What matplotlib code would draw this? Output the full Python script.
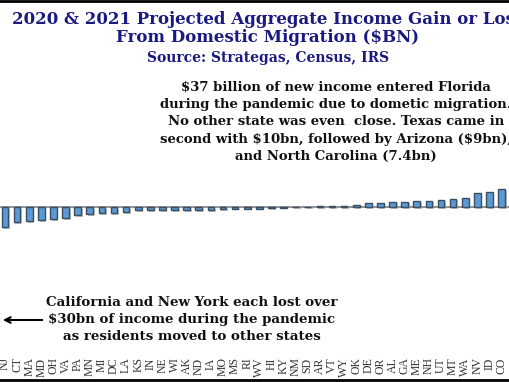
import matplotlib
matplotlib.use('Agg')
import matplotlib.pyplot as plt
import matplotlib.patheffects as pe
from matplotlib.lines import Line2D

# Projected aggregate income gain/loss from domestic migration ($BN), visible states
states = ['NJ', 'CT', 'MA', 'MD', 'OH', 'VA', 'PA', 'MN', 'MI', 'DC', 'LA', 'KS', 'IN', 'NE',
          'WI', 'AK', 'ND', 'IA', 'MO', 'MS', 'RI', 'WV', 'HI', 'KY', 'NM', 'SD', 'AR', 'VT',
          'WY', 'OK', 'DE', 'OR', 'AL', 'GA', 'ME', 'NH', 'UT', 'MT', 'WA', 'NV', 'ID', 'CO']
values = [-6.8, -5.0, -4.7, -4.4, -4.1, -3.7, -2.7, -2.4, -2.0, -2.0, -1.7, -1.1, -1.1, -1.0,
          -1.0, -1.0, -1.0, -1.0, -0.7, -0.6, -0.6, -0.5, -0.3, -0.2, 0.1, 0.1, 0.3, 0.3,
          0.4, 0.7, 1.5, 1.4, 1.8, 1.8, 2.0, 2.1, 2.4, 2.8, 3.1, 4.7, 4.9, 5.9]

title = '2020 & 2021 Projected Aggregate Income Gain or Loss\nFrom Domestic Migration (\\$BN)'
source = 'Source: Strategas, Census, IRS'
note_top = ('\\$37 billion of new income entered Florida\n'
            'during the pandemic due to dometic migration.\n'
            'No other state was even  close. Texas came in\n'
            'second with \\$10bn, followed by Arizona (\\$9bn),\n'
            'and North Carolina (7.4bn)')
note_bottom = ('California and New York each lost over\n'
               '\\$30bn of income during the pandemic\n'
               'as residents moved to other states')

W, H = 510, 382
fig = plt.figure(figsize=(W / 100, H / 100), dpi=100)

# axes: bars at fixed pixel pitch, zero line near y=207px
ax = fig.add_axes([0, (H - 356) / H, 1, 296 / H])
x = list(range(len(states)))
bars = ax.bar(x, values, width=0.55, color='#5b9bd5', edgecolor='#3b4d60', linewidth=1.0, zorder=3)
for b in bars:
    b.set_path_effects([pe.SimplePatchShadow(offset=(1.2, -1.2), shadow_rgbFace='#9a9a9a', alpha=0.6),
                        pe.Normal()])
ax.axhline(0, color='#8a8a8a', linewidth=1.3, zorder=2)

ax.set_xlim(-5 / 12.11, (W - 5) / 12.11)
ax.set_ylim(-(356 - 207) / 3.0, (207 - 60) / 3.0)
ax.set_xticks(x)
ax.set_xticklabels(states, rotation=90, fontsize=8.5, family='Liberation Serif', color='#333333')
ax.tick_params(axis='x', length=0, pad=1)
ax.set_yticks([])
for s in ax.spines.values():
    s.set_visible(False)
ax.patch.set_alpha(0)

# titles
fig.text(268 / W, 1 - 11 / H, title, ha='center', va='top', fontsize=12, fontweight='bold',
         family='DejaVu Serif', color='#1a1a80', linespacing=1.05)
fig.text(268 / W, 1 - 51 / H, source, ha='center', va='top', fontsize=10, fontweight='bold',
         family='DejaVu Serif', color='#1a1a80')

# annotations
fig.text(336 / W, 1 - 81 / H, note_top, ha='center', va='top', fontsize=9.5, fontweight='bold',
         family='DejaVu Serif', color='#111111', linespacing=1.42)
fig.text(192 / W, 1 - 296 / H, note_bottom, ha='center', va='top', fontsize=9.6, fontweight='bold',
         family='DejaVu Serif', color='#111111', linespacing=1.38)
fig.patches.append(matplotlib.patches.FancyArrowPatch(
    (45 / W, 1 - 320 / H), (0 / W, 1 - 320 / H), transform=fig.transFigure,
    arrowstyle='->', mutation_scale=10, color='black', linewidth=1.5))

# frame lines top and bottom
fig.add_artist(Line2D([0, 1], [1 - 1 / H, 1 - 1 / H], transform=fig.transFigure, color='black', linewidth=2))
fig.add_artist(Line2D([0, 1], [1 - 380 / H, 1 - 380 / H], transform=fig.transFigure, color='black', linewidth=2))

fig.savefig('out.png', dpi=100, facecolor='white')
